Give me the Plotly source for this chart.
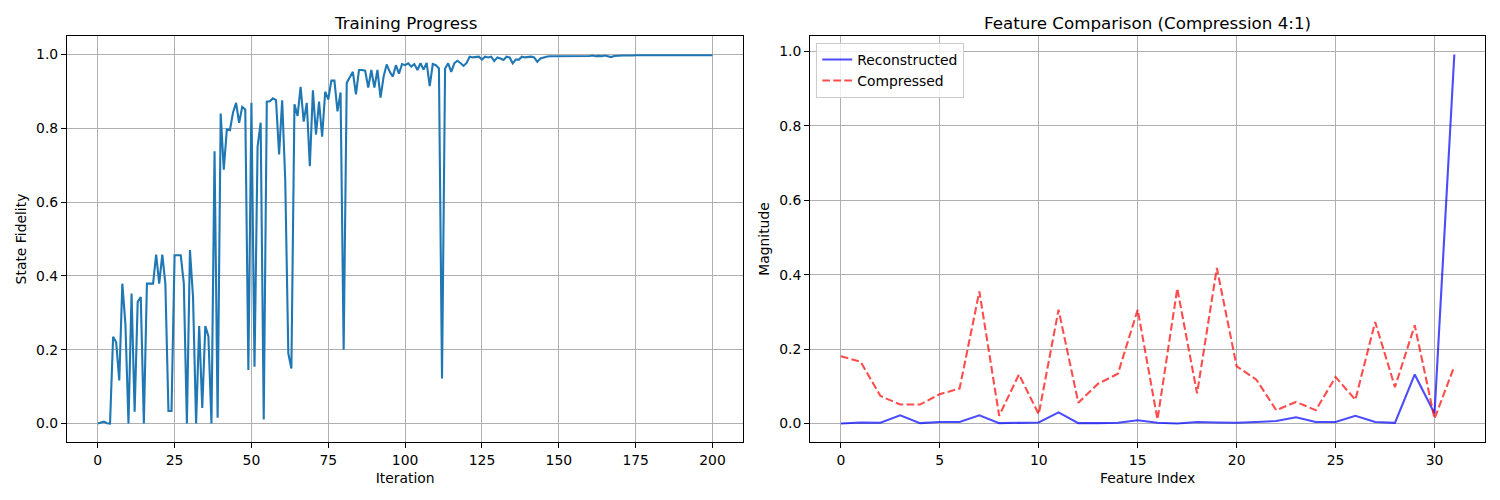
"""Training progress and feature comparison - two panel line chart"""

import plotly.graph_objects as go

# fidelity per iteration, 0..200
iterations = list(range(201))
fidelity = [
    0.0, 0.003, 0.005, 0.001, 0.0, 0.235, 0.22, 0.117, 0.379, 0.27,
    0.0, 0.352, 0.032, 0.33, 0.343, 0.0, 0.379, 0.379, 0.379, 0.458,
    0.379, 0.458, 0.379, 0.034, 0.034, 0.456, 0.456, 0.456, 0.38, 0.0,
    0.47, 0.343, 0.0, 0.264, 0.042, 0.264, 0.237, 0.0, 0.738, 0.016,
    0.84, 0.688, 0.797, 0.795, 0.842, 0.869, 0.815, 0.858, 0.851, 0.145,
    0.869, 0.154, 0.75, 0.815, 0.011, 0.872, 0.873, 0.881, 0.876, 0.729,
    0.876, 0.66, 0.19, 0.149, 0.865, 0.833, 0.912, 0.818, 0.869, 0.697,
    0.903, 0.783, 0.872, 0.777, 0.899, 0.878, 0.929, 0.929, 0.846, 0.897,
    0.2, 0.923, 0.938, 0.953, 0.892, 0.958, 0.958, 0.956, 0.91, 0.958,
    0.91, 0.958, 0.883, 0.94, 0.973, 0.953, 0.94, 0.971, 0.948, 0.974,
    0.971, 0.976, 0.967, 0.974, 0.958, 0.976, 0.959, 0.977, 0.914, 0.974,
    0.971, 0.962, 0.122, 0.962, 0.976, 0.953, 0.976, 0.983, 0.977, 0.969,
    0.977, 0.994, 0.992, 0.992, 0.994, 0.986, 0.994, 0.992, 0.994, 0.982,
    0.992, 0.989, 0.985, 0.994, 0.992, 0.976, 0.986, 0.986, 0.994, 0.992,
    0.994, 0.994, 0.992, 0.98, 0.989, 0.992, 0.994, 0.995, 0.995, 0.996,
    0.996, 0.994, 0.995, 0.996, 0.995, 0.996, 0.995, 0.994, 0.996, 0.995,
    0.996, 0.997, 0.995, 0.996, 0.995, 0.997, 0.996, 0.993, 0.996, 0.997,
    0.996, 0.997, 0.997, 0.996, 0.997, 0.998, 0.998, 0.997, 0.998, 0.998,
    0.997, 0.998, 0.998, 0.997, 0.998, 0.998, 0.997, 0.998, 0.998, 0.997,
    0.998, 0.998, 0.998, 0.997, 0.998, 0.998, 0.998, 0.997, 0.998, 0.998,
    0.998,
]

feature_idx = list(range(32))
reconstructed = [
    0.0, 0.003, 0.002, 0.022, 0.001, 0.004, 0.004, 0.022, 0.001, 0.003,
    0.003, 0.03, 0.001, 0.001, 0.002, 0.009, 0.002, 0.0, 0.004, 0.003,
    0.002, 0.004, 0.007, 0.017, 0.004, 0.004, 0.021, 0.004, 0.002, 0.132,
    0.027, 0.992,
]
compressed = [
    0.181, 0.166, 0.074, 0.051, 0.051, 0.079, 0.094, 0.355, 0.021, 0.132,
    0.025, 0.306, 0.056, 0.107, 0.134, 0.306, 0.011, 0.363, 0.081, 0.418,
    0.154, 0.118, 0.036, 0.058, 0.036, 0.125, 0.064, 0.273, 0.098, 0.264,
    0.013, 0.154,
]

FONT = "DejaVu Sans"
GRID = "#b0b0b0"

fig = go.Figure()
fig.add_trace(go.Scatter(x=iterations, y=fidelity, mode="lines",
                         line=dict(color="#1f77b4", width=2.1),
                         showlegend=False, xaxis="x", yaxis="y"))
fig.add_trace(go.Scatter(x=feature_idx, y=reconstructed, mode="lines", name="Reconstructed",
                         line=dict(color="rgba(0,0,255,0.7)", width=2.1),
                         xaxis="x2", yaxis="y2"))
fig.add_trace(go.Scatter(x=feature_idx, y=compressed, mode="lines", name="Compressed",
                         line=dict(color="rgba(255,0,0,0.7)", width=2.1, dash="7.7px,3.3px"),
                         xaxis="x2", yaxis="y2"))

axis_style = dict(showgrid=True, gridcolor=GRID, gridwidth=1.1, zeroline=False,
                  showline=True, linecolor="black", linewidth=1.1, mirror=True,
                  ticks="outside", ticklen=5, tickwidth=1.1, tickcolor="black",
                  automargin=False,
                  tickfont=dict(family=FONT, size=13.9, color="black"))

left_dom = [0.0, 0.4769]
right_dom = [0.5241, 1.0]

# the page body has an 8px margin, so the margins are shifted to compensate
fig.update_layout(
    width=1500, height=500,
    margin=dict(l=58.5, r=23, t=28, b=66),
    plot_bgcolor="white", paper_bgcolor="white",
    font=dict(family=FONT, size=13.9, color="black"),
    xaxis=dict(axis_style, domain=left_dom, range=[-10, 210], tickvals=list(range(0, 201, 25)),
               title=dict(text="Iteration", font=dict(size=13.9), standoff=6), anchor="y"),
    yaxis=dict(axis_style, range=[-0.05, 1.05], tickvals=[0, 0.2, 0.4, 0.6, 0.8, 1.0],
               tickformat=".1f", title=dict(text="State Fidelity", font=dict(size=13.9), standoff=6),
               anchor="x"),
    xaxis2=dict(axis_style, domain=right_dom, range=[-1.55, 32.55], tickvals=list(range(0, 31, 5)),
                title=dict(text="Feature Index", font=dict(size=13.9), standoff=6), anchor="y2"),
    yaxis2=dict(axis_style, range=[-0.0496, 1.0416], tickvals=[0, 0.2, 0.4, 0.6, 0.8, 1.0],
                tickformat=".1f", title=dict(text="Magnitude", font=dict(size=13.9), standoff=6),
                anchor="x2"),
    legend=dict(x=0.5284, y=0.983, xanchor="left", yanchor="top",
                bgcolor="rgba(255,255,255,0.8)", bordercolor="#cccccc", borderwidth=1,
                font=dict(family=FONT, size=13.9), tracegroupgap=0),
    annotations=[
        dict(text="Training Progress", x=sum(left_dom) / 2, y=1, xref="paper", yref="paper",
             xanchor="center", yanchor="bottom", yshift=1, showarrow=False,
             font=dict(family=FONT, size=16.7)),
        dict(text="Feature Comparison (Compression 4:1)", x=sum(right_dom) / 2, y=1,
             xref="paper", yref="paper", xanchor="center", yanchor="bottom", yshift=1,
             showarrow=False, font=dict(family=FONT, size=16.7)),
    ],
)

fig.write_html("out.html")
